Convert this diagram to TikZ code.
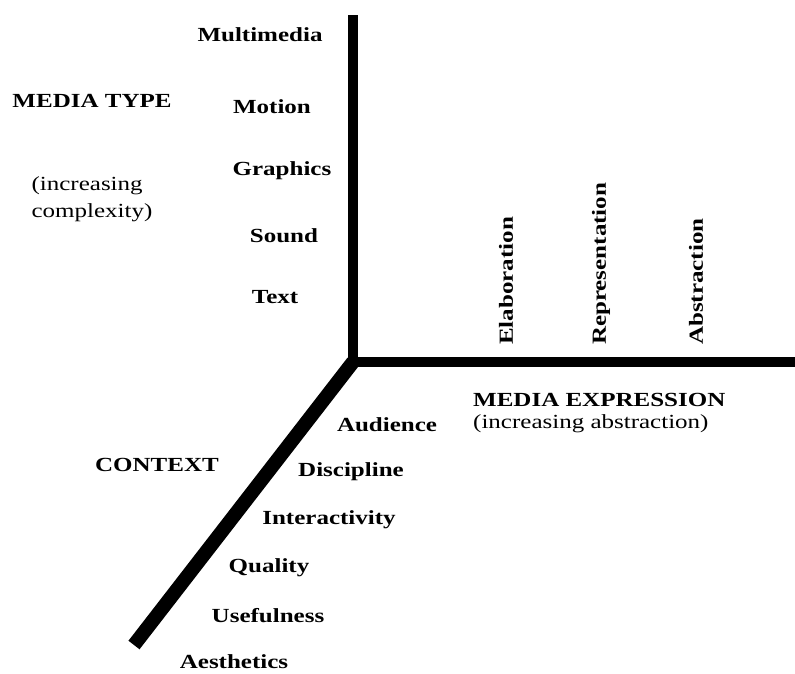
\documentclass[tikz,border=0pt]{standalone}
\usepackage{fontspec}
\setmainfont{Liberation Serif}
\usepackage{tikz}
\usetikzlibrary{positioning,calc}
\newcommand{\widetxt}[1]{\scalebox{1.25}[1]{#1}}
\tikzset{
    lbl/.style={font=\fontsize{20}{24}\selectfont\bfseries, inner sep=0pt},
    note/.style={font=\fontsize{20}{27}\selectfont, inner sep=0pt, align=left},
    vlbl/.style={lbl, rotate=90, anchor=west},
    axis/.style={line width=10pt},
}
\begin{document}
\begin{tikzpicture}[x=1pt,y=-1pt]
    \useasboundingbox (0,0) rectangle (795,673);
    % Axes
    \coordinate (origin) at (353,362);
    \coordinate (top) at (353,15);
    \coordinate (right) at (795,362);
    \coordinate (ctx) at (134,645);
    \draw [axis] (top) -- (origin);
    \draw [axis] (origin) -- (right);
    \draw [line width=14pt] (origin) -- (ctx);
    % Media type
    \node [lbl] (type) at (92,101) {\widetxt{MEDIA TYPE}};
    \node [note] (typenote) at (92,199) {\widetxt{(increasing}\\\widetxt{complexity)}};
    \node [lbl] (multimedia) at (260,35) {\widetxt{Multimedia}};
    \node [lbl] (motion) at (272,107) {\widetxt{Motion}};
    \node [lbl] (graphics) at (282,171) {\widetxt{Graphics}};
    \node [lbl] (sound) at (284,236) {\widetxt{Sound}};
    \node [lbl] (text) at (275,297) {\widetxt{Text}};
    % Media expression
    \node [vlbl] (elab) at (506,345) {\widetxt{Elaboration}};
    \node [vlbl] (repr) at (601,345) {\widetxt{Representation}};
    \node [vlbl] (abstr) at (696,345) {\widetxt{Abstraction}};
    \node [lbl, anchor=west] (expr) at (473,400) {\widetxt{MEDIA EXPRESSION}};
    \node [note, anchor=west] (exprnote) at (473,424) {\widetxt{(increasing abstraction)}};
    % Context
    \node [lbl] (context) at (157,465) {\widetxt{CONTEXT}};
    \node [lbl] (audience) at (387,425) {\widetxt{Audience}};
    \node [lbl] (discipline) at (351,472) {\widetxt{Discipline}};
    \node [lbl] (interact) at (329,520) {\widetxt{Interactivity}};
    \node [lbl] (quality) at (269,568) {\widetxt{Quality}};
    \node [lbl] (useful) at (268,616) {\widetxt{Usefulness}};
    \node [lbl] (aesth) at (234,662) {\widetxt{Aesthetics}};
\end{tikzpicture}
\end{document}
